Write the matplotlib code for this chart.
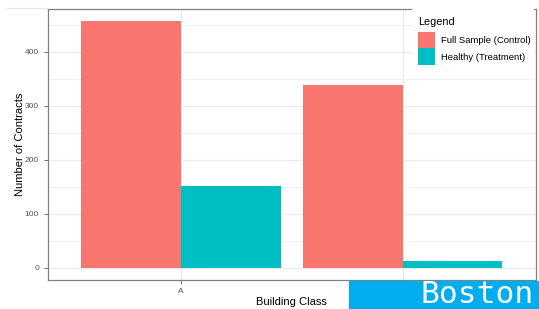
import matplotlib
matplotlib.use("Agg")
import matplotlib.pyplot as plt
from matplotlib.patches import Rectangle, Patch
from matplotlib.lines import Line2D
import numpy as np

categories = ["A", "B"]
series_names = ["Full Sample (Control)", "Healthy (Treatment)"]
control_vals = [456, 339]
treatment_vals = [152, 12]
colors = ["#F8766D", "#00BFC4"]

W, H = 539, 309
fig = plt.figure(figsize=(W / 100, H / 100), dpi=100)
plt.rcParams['font.family'] = ['Liberation Sans', 'DejaVu Sans']

ax = fig.add_axes([48 / W, 1 - 280 / H, (535.5 - 48) / W, (280 - 9) / H])

x = np.arange(1, len(categories) + 1)
bw = 0.45
ax.bar(x - bw / 2, control_vals, width=bw, color=colors[0], zorder=3)
ax.bar(x + bw / 2, treatment_vals, width=bw, color=colors[1], zorder=3)

ymax = max(control_vals)
ax.set_xlim(0.4, len(categories) + 0.6)
ax.set_ylim(-0.05 * ymax, 1.05 * ymax)
ax.set_xticks(x)
ax.set_xticklabels(categories)
ax.set_yticks([0, 100, 200, 300, 400])
ax.set_yticks([50, 150, 250, 350, 450], minor=True)
ax.grid(True, which='major', color='#EBEBEB', linewidth=0.9, zorder=0)
ax.grid(True, which='minor', axis='y', color='#F0F0F0', linewidth=0.7, zorder=0)
ax.set_axisbelow(True)
ax.tick_params(axis='both', which='major', length=3.2, width=0.6, color='#555555',
               labelsize=6, labelcolor='#555555')
ax.tick_params(axis='y', which='major', pad=3.3)
ax.tick_params(axis='x', which='major', pad=2.5)
ax.tick_params(axis='y', which='minor', length=0)
for s in ax.spines.values():
    s.set_color('#808080')
    s.set_linewidth(0.9)

ax.set_xlabel("Building Class", fontsize=8)
ax.set_ylabel("Number of Contracts", fontsize=8)
ax.xaxis.set_label_coords(0.5, -(297 - 280) / 271)
ax.yaxis.set_label_coords((25.5 - 48) / 487.5, 0.5)

# faint line at top left (screenshot edge)
fig.add_artist(Line2D([7 / W, 48 / W], [1 - 8 / H, 1 - 8 / H], color='#E6E6E6', linewidth=0.8))

# white legend box
fig.add_artist(Rectangle((412 / W, 1 - 74 / H), (534 - 412) / W, 74 / H,
                         transform=fig.transFigure, facecolor='white', edgecolor='none', zorder=2))
fig.text(418 / W, 1 - 25 / H, "Legend", ha='left', va='baseline', fontsize=7.8,
         color='black', zorder=6)
handles = [Patch(facecolor=colors[0], edgecolor='none'), Patch(facecolor=colors[1], edgecolor='none')]
leg = fig.legend(handles, series_names, loc='upper left',
                 bbox_to_anchor=(417.7 / W, 1 - 31.5 / H), frameon=False,
                 fontsize=6.8, handlelength=1.8, handleheight=2.39,
                 handletextpad=0.62, labelspacing=0.0, borderpad=0.0, borderaxespad=0.0)
leg.set_zorder(5)

# Boston banner
fig.add_artist(Rectangle((349 / W, 0), (W - 349) / W, 28 / H, transform=fig.transFigure,
                         facecolor='#00AEEF', edgecolor='none', zorder=3))
fig.text(534 / W, 6 / H, "Boston", ha='right', va='baseline', color='white',
         fontsize=22.5, family='DejaVu Sans Mono', zorder=4)

fig.savefig("out.png", dpi=100)
